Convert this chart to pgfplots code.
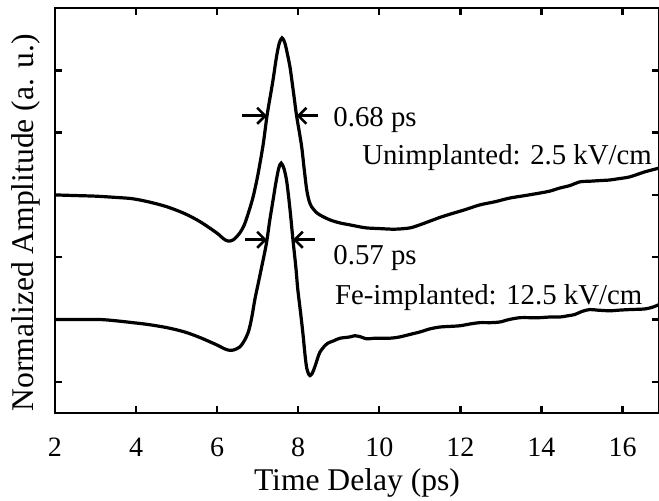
\documentclass[border=0pt]{standalone}
\usepackage{pgfplots}
\pgfplotsset{compat=1.18}
\usetikzlibrary{arrows.meta}
\usepackage{fontspec}
\setmainfont{Liberation Serif}

\begin{document}
\begin{tikzpicture}
\begin{axis}[
    name=ax, anchor=south west, at={(0,0)},
    scale only axis, width=302pt, height=202.5pt,
    xmin=2, xmax=16.9, ymin=-0.5, ymax=6,
    xtick={2,4,...,16}, ytick={0,1,...,5}, yticklabels={},
    tick align=inside, major tick length=3.5pt,
    every tick/.style={line width=1.2pt, black},
    axis line style={line width=1.4pt},
    font=\fontsize{14}{16}\selectfont,
    /pgf/number format/assume math mode=true,
    xticklabel style={yshift=-9pt},
    xlabel={Time Delay (ps)}, ylabel={Normalized Amplitude (a. u.)},
    every axis x label/.style={at={(axis description cs:0.5,-0.172)}, anchor=center, font=\fontsize{15.8}{18}\selectfont},
    every axis y label/.style={at={(axis description cs:-0.048,0.47)}, rotate=90, anchor=center, font=\fontsize{15.8}{18}\selectfont},
    clip=false,
]
\addplot[black, line width=1.6pt, smooth] coordinates {
(2,3.00) (2.5,2.99) (3,2.98) (3.5,2.96) (3.9,2.94) (4.3,2.89) (4.76,2.81) (5.2,2.70)
(5.58,2.57) (5.99,2.39) (6.15,2.30) (6.27,2.26) (6.4,2.28) (6.56,2.39) (6.67,2.52)
(6.77,2.71) (6.88,2.95) (6.98,3.24) (7.06,3.52) (7.14,3.83) (7.23,4.27) (7.31,4.58)
(7.38,4.85) (7.46,5.20) (7.53,5.43) (7.6,5.52) (7.67,5.44) (7.74,5.24) (7.8,5.04)
(7.88,4.66) (7.96,4.27) (8.03,4.0) (8.09,3.75) (8.15,3.40) (8.21,3.08) (8.27,2.90)
(8.33,2.81) (8.43,2.73) (8.53,2.68) (8.78,2.60) (9.03,2.55) (9.27,2.52) (9.5,2.49)
(9.69,2.47) (10.0,2.46) (10.38,2.45) (10.75,2.47) (11.0,2.52) (11.25,2.58) (11.5,2.64)
(11.74,2.69) (12.1,2.76) (12.48,2.84) (12.85,2.89) (13.22,2.95) (13.6,2.99) (13.96,3.03)
(14.2,3.06) (14.45,3.11) (14.7,3.15) (14.95,3.21) (15.2,3.22) (15.44,3.23) (15.69,3.24)
(15.9,3.26) (16.18,3.29) (16.55,3.37) (16.9,3.43)
};
\addplot[black, line width=1.6pt, smooth] coordinates {
(2,1.00) (2.5,1.00) (3.11,1.00) (3.5,0.98) (3.92,0.95) (4.3,0.92) (4.76,0.87) (5.2,0.80)
(5.58,0.71) (6.0,0.59) (6.15,0.54) (6.27,0.51) (6.4,0.51) (6.56,0.56) (6.67,0.66)
(6.77,0.80) (6.85,1.02) (6.93,1.32) (7.02,1.60) (7.1,1.85) (7.18,2.10) (7.23,2.28)
(7.3,2.6) (7.38,2.92) (7.45,3.20) (7.52,3.43) (7.58,3.51) (7.65,3.42) (7.72,3.20)
(7.8,2.75) (7.87,2.28) (7.94,1.85) (7.99,1.48) (8.06,1.10) (8.12,0.75) (8.17,0.42)
(8.21,0.22) (8.26,0.12) (8.29,0.10) (8.34,0.13) (8.41,0.24) (8.47,0.36) (8.53,0.47)
(8.63,0.56) (8.73,0.62) (8.88,0.66) (9.03,0.70) (9.27,0.72) (9.4,0.74) (9.55,0.72)
(9.69,0.69) (9.89,0.70) (10.26,0.70) (10.5,0.72) (10.75,0.76) (11.0,0.80) (11.25,0.85)
(11.5,0.88) (11.75,0.89) (11.99,0.90) (12.25,0.93) (12.48,0.95) (12.75,0.95) (12.97,0.96)
(13.2,1.00) (13.47,1.03) (13.7,1.03) (13.96,1.03) (14.2,1.04) (14.45,1.04) (14.65,1.06)
(14.82,1.08) (15.0,1.13) (15.19,1.16) (15.4,1.15) (15.69,1.14) (15.9,1.15) (16.18,1.16)
(16.55,1.17) (16.75,1.20) (16.9,1.24)
};
% FWHM markers
\draw[line width=1.3pt, -{Straight Barb[length=4pt,width=8pt]}] (axis cs:6.61,4.27) -- (axis cs:7.23,4.27);
\draw[line width=1.3pt, -{Straight Barb[length=4pt,width=8pt]}] (axis cs:8.49,4.27) -- (axis cs:7.96,4.27);
\draw[line width=1.3pt, -{Straight Barb[length=4pt,width=8pt]}] (axis cs:6.69,2.28) -- (axis cs:7.23,2.28);
\draw[line width=1.3pt, -{Straight Barb[length=4pt,width=8pt]}] (axis cs:8.41,2.28) -- (axis cs:7.87,2.28);
\node[anchor=west, inner sep=0pt, font=\fontsize{14.4}{16}\selectfont] at (axis cs:8.86,4.21) {0.68 ps};
\node[anchor=west, inner sep=0pt, font=\fontsize{14.4}{16}\selectfont] at (axis cs:9.57,3.6) {Unimplanted: 2.5 kV/cm};
\node[anchor=west, inner sep=0pt, font=\fontsize{14.4}{16}\selectfont] at (axis cs:8.86,1.99) {0.57 ps};
\node[anchor=west, inner sep=0pt, font=\fontsize{14.4}{16}\selectfont] at (axis cs:8.9,1.36) {Fe-implanted: 12.5 kV/cm};
\end{axis}
\pgfresetboundingbox
\path (-27.5pt,-44pt) rectangle (302pt,206.5pt);
\end{tikzpicture}
\end{document}
